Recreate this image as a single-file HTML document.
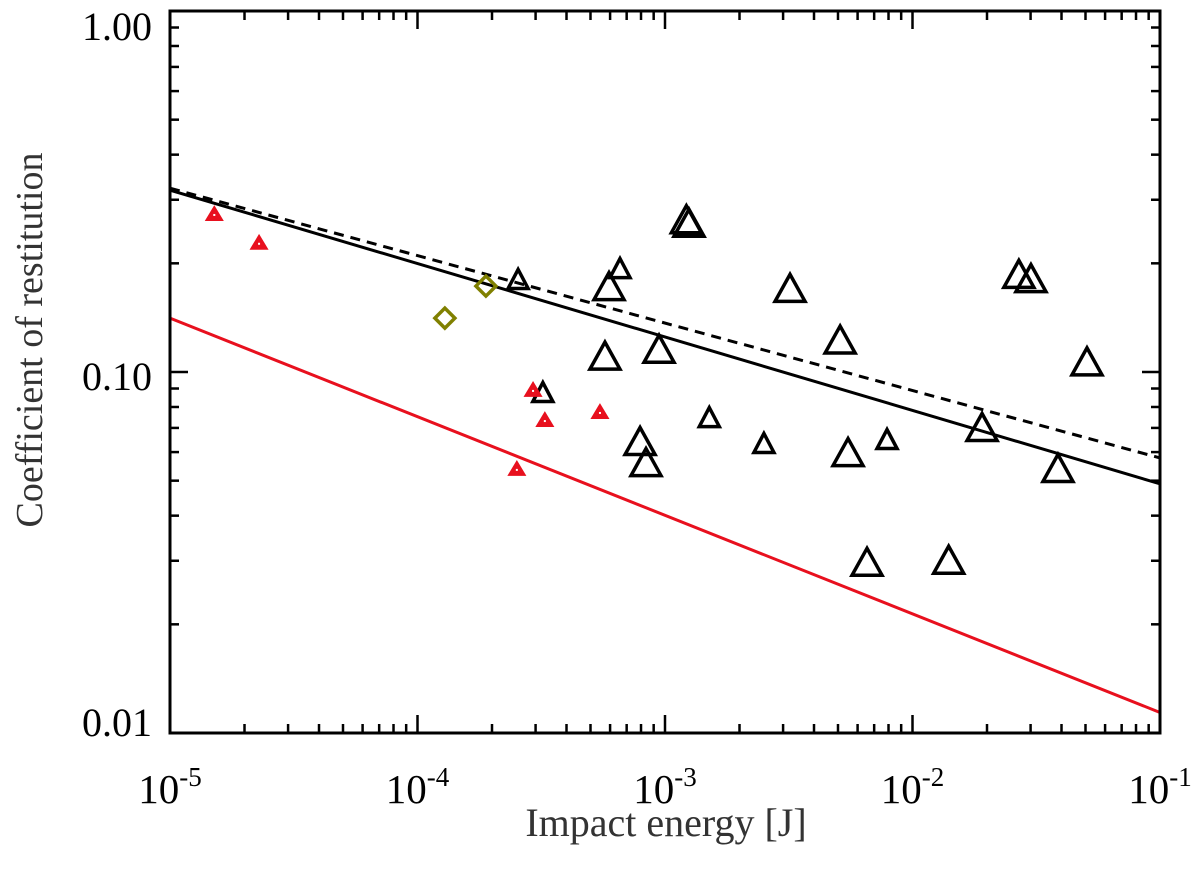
<!DOCTYPE html>
<html><head><meta charset="utf-8"><style>
html,body{margin:0;padding:0;background:#fff;width:1200px;height:876px;overflow:hidden}
svg{display:block}
text{font-family:"Liberation Serif",serif}
</style></head><body>
<svg id="chart" width="1200" height="876" viewBox="0 0 1200 876" xmlns="http://www.w3.org/2000/svg"></svg>
<script>
// Data
const redE = [1.51e-5, 2.29e-5, 2.52e-4, 2.93e-4, 3.27e-4, 5.46e-4];
const redC = [0.274, 0.228, 0.0539, 0.0892, 0.0736, 0.0775];
const diaE = [1.29e-4, 1.89e-4];
const diaC = [0.141, 0.173];
const smallE = [2.55e-4, 3.21e-4, 6.58e-4, 1.51e-3, 2.51e-3, 7.89e-3];
const smallC = [0.181, 0.088, 0.194, 0.075, 0.0636, 0.0652];
const largeE = [5.94e-4, 5.72e-4, 9.46e-4, 7.93e-4, 8.38e-4, 1.25e-3, 1.22e-3, 3.20e-3, 5.10e-3, 5.49e-3, 6.55e-3, 1.40e-2, 1.91e-2, 2.69e-2, 3.01e-2, 3.87e-2, 5.07e-2];
const largeC = [0.173, 0.111, 0.116, 0.0644, 0.0563, 0.259, 0.265, 0.171, 0.123, 0.060, 0.0298, 0.0302, 0.0704, 0.187, 0.182, 0.0542, 0.107];
const fitSolidE = [1e-5, 1e-1];
const fitSolidC = [0.319, 0.049];
const fitDashE = [1e-5, 1e-1];
const fitDashC = [0.323, 0.0578];
const fitRedE = [1e-5, 1e-1];
const fitRedC = [0.141, 0.0114];
const xTickExp = [-5, -4, -3, -2, -1];
const yTickVals = [1, 0.1, 0.01];
const yTickLabels = ["1.00", "0.10", "0.01"];

const L = 170, R = 1160, T = 11, B = 733;
const xMinL = -5, xMaxL = -1, yMinL = -2, yMaxL = 0;
function sx(e){ return L + (Math.log10(e) - xMinL) / (xMaxL - xMinL) * (R - L); }
function sy(c){ return B - (Math.log10(c) - yMinL) / (yMaxL - yMinL) * (B - T); }

const svg = document.getElementById('chart');
const NS = 'http://www.w3.org/2000/svg';
function mk(tag, attrs, parent){
  const el = document.createElementNS(NS, tag);
  for (const k in attrs) el.setAttribute(k, attrs[k]);
  (parent || svg).appendChild(el);
  return el;
}

// Ticks
const ticks = mk('g', {});


for (let d = xMinL; d < xMaxL; d++) {
  for (let m = 2; m < 10; m++) {
    const x = sx(m * Math.pow(10, d));
    mk('line', {x1:x, x2:x, y1:B, y2:B-9, stroke:'#000', 'stroke-width':2.5}, ticks);
    mk('line', {x1:x, x2:x, y1:T, y2:T+9, stroke:'#000', 'stroke-width':2.5}, ticks);
  }
}
xTickExp.forEach(p => {
  const x = sx(Math.pow(10, p));
  mk('line', {x1:x, x2:x, y1:B, y2:B-18, stroke:'#000', 'stroke-width':2.5}, ticks);
  mk('line', {x1:x, x2:x, y1:T, y2:T+18, stroke:'#000', 'stroke-width':2.5}, ticks);
});
for (let d = yMinL; d < yMaxL; d++) {
  for (let m = 2; m < 10; m++) {
    const y = sy(m * Math.pow(10, d));
    mk('line', {x1:L, x2:L+9, y1:y, y2:y, stroke:'#000', 'stroke-width':2.5}, ticks);
    mk('line', {x1:R, x2:R-9, y1:y, y2:y, stroke:'#000', 'stroke-width':2.5}, ticks);
  }
}
yTickVals.forEach(v => {
  const y = sy(v);
  mk('line', {x1:L, x2:L+18, y1:y, y2:y, stroke:'#000', 'stroke-width':2.5}, ticks);
  mk('line', {x1:R, x2:R-18, y1:y, y2:y, stroke:'#000', 'stroke-width':2.5}, ticks);
});

// Tick labels
xTickExp.forEach(p => {
  const t = mk('text', {x:sx(Math.pow(10,p)), y:803, 'font-size':41, 'text-anchor':'middle', fill:'#000'});
  
  
  const a = mk('tspan', {}, t); a.textContent = '10';
  const b = mk('tspan', {dy:-17, 'font-size':27}, t); b.textContent = String(p);
});
yTickVals.forEach((v, i) => {
  let y = sy(v) + 18;
  if (i === 0) y = 40;
  if (i === 2) y = 736;
  const t = mk('text', {x:152, y:y, 'font-size':40, 'text-anchor':'end', fill:'#000'});
  
  
  t.textContent = yTickLabels[i];
});

// Fit lines
function line(E, C, color, dash, name){
  const l = mk('line', {x1:sx(E[0]), y1:sy(C[0]), x2:sx(E[1]), y2:sy(C[1]), stroke:color, 'stroke-width':3, 'stroke-dasharray':dash});
  
  
}
line(fitDashE, fitDashC, '#000', '10,7', 'dashed-fit-line');
line(fitSolidE, fitSolidC, '#000', 'none', 'solid-fit-line');
line(fitRedE, fitRedC, '#e8101e', 'none', 'red-fit-line');

// Markers
function tri(x, y, w, h, stroke, fill, sw){
  return mk('polygon', {points:`${x},${y-h/2} ${x-w/2},${y+h/2} ${x+w/2},${y+h/2}`, fill:fill, stroke:stroke, 'stroke-width':sw, 'stroke-linejoin':'miter'});
}
largeE.forEach((e, i) => {
  const p = tri(sx(e), sy(largeC[i]), 30, 27, '#000', 'none', 3.5);
  
  
});
smallE.forEach((e, i) => {
  const p = tri(sx(e), sy(smallC[i]), 20, 19, '#000', 'none', 3.5);
  
  
});
redE.forEach((e, i) => {
  const x = sx(e), y = sy(redC[i]);
  const p = tri(x, y, 12, 10, '#e8101e', '#e8101e', 4);
  
  
  mk('rect', {x:x-1, y:y, width:2, height:2, fill:'#fff'});
});
diaE.forEach((e, i) => {
  const x = sx(e), y = sy(diaC[i]);
  const p = mk('polygon', {points:`${x},${y-10} ${x+10},${y} ${x},${y+10} ${x-10},${y}`, fill:'none', stroke:'#808000', 'stroke-width':3.5});
  
  
});

// Frame
const fr = mk('rect', {x:L, y:T, width:R-L, height:B-T, fill:'none', stroke:'#000', 'stroke-width':3});



// Axis titles
const xt = mk('text', {x:666, y:836, 'font-size':40, 'text-anchor':'middle', fill:'#333'});


xt.textContent = 'Impact energy [J]';
const yt = mk('text', {x:0, y:0, 'font-size':38, 'text-anchor':'middle', fill:'#333', transform:'translate(42,340) rotate(-90)'});


yt.textContent = 'Coefficient of restitution';
</script>
</body></html>
